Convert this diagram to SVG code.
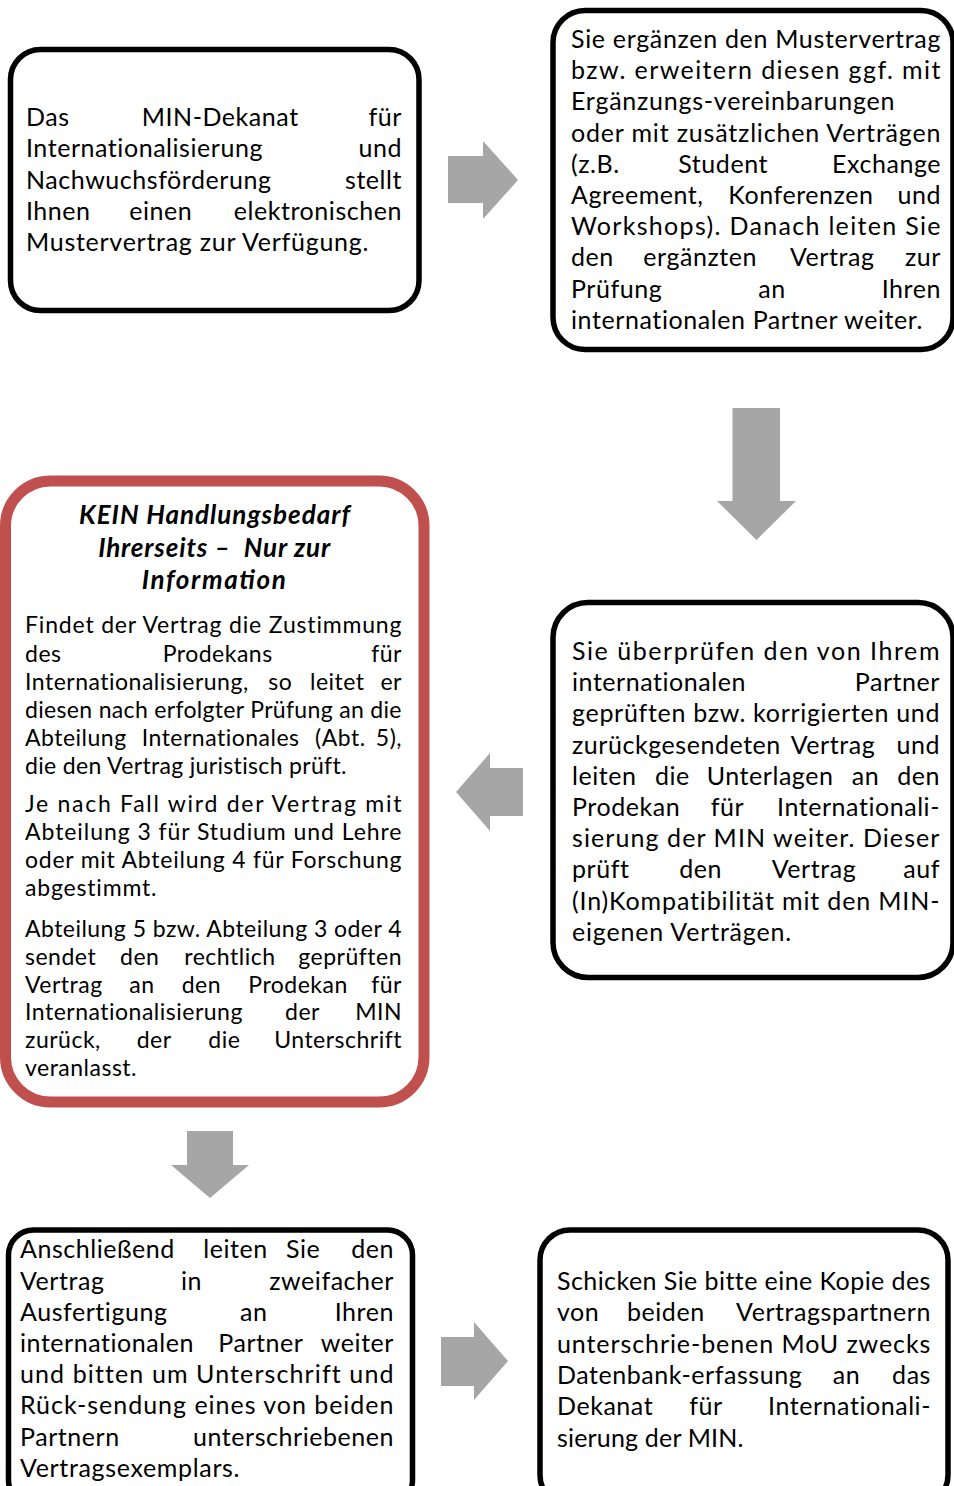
<svg xmlns="http://www.w3.org/2000/svg" width="954" height="1486" viewBox="0 0 954 1486">
<style>
.box{fill:#fff;stroke:#000;stroke-width:5.5}
.red{fill:#fff;stroke:#C0504D;stroke-width:11}
.arr{fill:#A6A6A6}
text{font-family:Lato,"Open Sans","Liberation Sans",sans-serif;font-size:25px;fill:#000;letter-spacing:0.55px}
.s{font-size:23px;letter-spacing:0.5px}
.e{text-anchor:end}
.h{font-weight:bold;font-style:italic;font-size:26px;text-anchor:middle;white-space:pre;letter-spacing:0}
</style>
<rect width="954" height="1486" fill="#fff"/>
<g id="connectors">
<polygon class="arr" points="448,156 483,156 483,141 518,180 483,219 483,203 448,203"/>
<polygon class="arr" points="732.5,408 780,408 780,501 796,501 756.5,540 717,501 732.5,501"/>
<polygon class="arr" points="523,768 490,768 490,753 456,792 490,831 490,816 523,816"/>
<polygon class="arr" points="187,1131 233,1131 233,1165 249,1165 210,1198 171,1165 187,1165"/>
<polygon class="arr" points="441,1337 474,1337 474,1322 508,1361 474,1400 474,1386 441,1386"/>
</g>
<g id="node1">
<rect class="box" x="10.5" y="49.5" width="408.5" height="261" rx="30"/>
<text x="26" y="126">Das<tspan x="141.7">MIN-Dekanat</tspan></text><text class="e" x="402" y="126">für</text>
<text x="26" y="157.3">Internationalisierung</text><text class="e" x="402" y="157.3">und</text>
<text x="26" y="188.6">Nachwuchsförderung</text><text class="e" x="402" y="188.6">stellt</text>
<text x="26" y="219.9">Ihnen<tspan x="129.3">einen</tspan></text><text class="e" x="402" y="219.9">elektronischen</text>
<text x="26" y="251.2" textLength="343" lengthAdjust="spacing">Mustervertrag zur Verfügung.</text>
</g>
<g id="node2">
<rect class="box" x="553" y="10.5" width="400" height="339" rx="32"/>
<text x="571" y="48" textLength="370" lengthAdjust="spacing">Sie ergänzen den Mustervertrag</text>
<text x="571" y="79.2" textLength="370" lengthAdjust="spacing">bzw. erweitern diesen ggf. mit</text>
<text x="571" y="110.4" textLength="324" lengthAdjust="spacing">Ergänzungs-vereinbarungen</text>
<text x="571" y="141.6" textLength="370" lengthAdjust="spacing">oder mit zusätzlichen Verträgen</text>
<text x="571" y="172.8">(z.B.<tspan x="678.3">Student</tspan></text><text class="e" x="941" y="172.8">Exchange</text>
<text x="571" y="204">Agreement,<tspan x="728.3">Konferenzen</tspan></text><text class="e" x="941" y="204">und</text>
<text x="571" y="235.2" textLength="370" lengthAdjust="spacing">Workshops). Danach leiten Sie</text>
<text x="571" y="266.4">den<tspan x="643.3">ergänzten</tspan><tspan x="790">Vertrag</tspan></text><text class="e" x="941" y="266.4">zur</text>
<text x="571" y="297.6">Prüfung<tspan x="758.3">an</tspan></text><text class="e" x="941" y="297.6">Ihren</text>
<text x="571" y="328.8" textLength="352" lengthAdjust="spacing">internationalen Partner weiter.</text>
</g>
<g id="node3">
<rect class="box" x="553" y="602.5" width="400" height="375" rx="35"/>
<text x="572" y="660" textLength="368" lengthAdjust="spacing">Sie überprüfen den von Ihrem</text>
<text x="572" y="691.2">internationalen</text><text class="e" x="940" y="691.2">Partner</text>
<text x="572" y="722.4" textLength="368" lengthAdjust="spacing">geprüften bzw. korrigierten und</text>
<text x="572" y="753.6">zurückgesendeten<tspan x="790.7">Vertrag</tspan></text><text class="e" x="940" y="753.6">und</text>
<text x="572" y="784.8">leiten<tspan x="655">die</tspan><tspan x="706.7">Unterlagen</tspan><tspan x="851.7">an</tspan></text><text class="e" x="940" y="784.8">den</text>
<text x="572" y="816">Prodekan<tspan x="710.7">für</tspan></text><text class="e" x="940" y="816">Internationali-</text>
<text x="572" y="847.2" textLength="368" lengthAdjust="spacing">sierung der MIN weiter. Dieser</text>
<text x="572" y="878.4">prüft<tspan x="679.3">den</tspan><tspan x="771.7">Vertrag</tspan></text><text class="e" x="940" y="878.4">auf</text>
<text x="572" y="909.6" textLength="368" lengthAdjust="spacing">(In)Kompatibilität mit den MIN-</text>
<text x="572" y="940.8" textLength="219.7" lengthAdjust="spacing">eigenen Verträgen.</text>
</g>
<g id="node4">
<rect class="red" x="5.5" y="481" width="418.5" height="621" rx="45"/>
<text class="h" x="214.5" y="524" textLength="271" lengthAdjust="spacing">KEIN Handlungsbedarf</text>
<text class="h" x="214.2" y="557" textLength="232" lengthAdjust="spacing">Ihrerseits –  Nur zur</text>
<text class="h" x="213.8" y="589" textLength="144.3" lengthAdjust="spacing">Information</text>
<text class="s" x="25" y="633.3" textLength="377" lengthAdjust="spacing">Findet der Vertrag die Zustimmung</text>
<text class="s" x="25" y="661.5">des<tspan x="162.7">Prodekans</tspan></text><text class="s e" x="402" y="661.5">für</text>
<text class="s" x="25" y="689.7">Internationalisierung,<tspan x="268.3">so</tspan><tspan x="310">leitet</tspan></text><text class="s e" x="402" y="689.7">er</text>
<text class="s" x="25" y="717.9" textLength="377" lengthAdjust="spacing">diesen nach erfolgter Prüfung an die</text>
<text class="s" x="25" y="746.1">Abteilung<tspan x="141.7">Internationales</tspan><tspan x="315">(Abt.</tspan></text><text class="s e" x="402" y="746.1">5),</text>
<text class="s" x="25" y="774.3" textLength="322" lengthAdjust="spacing">die den Vertrag juristisch prüft.</text>
<text class="s" x="25" y="811.7" textLength="377" lengthAdjust="spacing">Je nach Fall wird der Vertrag mit</text>
<text class="s" x="25" y="839.9" textLength="377" lengthAdjust="spacing">Abteilung 3 für Studium und Lehre</text>
<text class="s" x="25" y="868.1" textLength="377" lengthAdjust="spacing">oder mit Abteilung 4 für Forschung</text>
<text class="s" x="25" y="896.3" textLength="132" lengthAdjust="spacing">abgestimmt.</text>
<text class="s" x="25" y="936.7" textLength="377" lengthAdjust="spacing">Abteilung 5 bzw. Abteilung 3 oder 4</text>
<text class="s" x="25" y="964.6">sendet<tspan x="120">den</tspan><tspan x="184.3">rechtlich</tspan></text><text class="s e" x="402" y="964.6">geprüften</text>
<text class="s" x="25" y="992.5">Vertrag<tspan x="129.3">an</tspan><tspan x="181.7">den</tspan><tspan x="248.3">Prodekan</tspan></text><text class="s e" x="402" y="992.5">für</text>
<text class="s" x="25" y="1020.4">Internationalisierung<tspan x="285">der</tspan></text><text class="s e" x="402" y="1020.4">MIN</text>
<text class="s" x="25" y="1048.3">zurück,<tspan x="136.7">der</tspan><tspan x="208.3">die</tspan></text><text class="s e" x="402" y="1048.3">Unterschrift</text>
<text class="s" x="25" y="1076.2" textLength="112" lengthAdjust="spacing">veranlasst.</text>
</g>
<g id="node5">
<rect class="box" x="8.5" y="1230" width="404" height="275" rx="25"/>
<text x="20" y="1258.3">Anschließend<tspan x="203.3">leiten</tspan><tspan x="286">Sie</tspan></text><text class="e" x="394" y="1258.3">den</text>
<text x="20" y="1289.5">Vertrag<tspan x="181">in</tspan></text><text class="e" x="394" y="1289.5">zweifacher</text>
<text x="20" y="1320.7">Ausfertigung<tspan x="240">an</tspan></text><text class="e" x="394" y="1320.7">Ihren</text>
<text x="20" y="1351.9">internationalen<tspan x="218.3">Partner</tspan></text><text class="e" x="394" y="1351.9">weiter</text>
<text x="20" y="1383.1" textLength="374" lengthAdjust="spacing">und bitten um Unterschrift und</text>
<text x="20" y="1414.3" textLength="374" lengthAdjust="spacing">Rück-sendung eines von beiden</text>
<text x="20" y="1445.5">Partnern</text><text class="e" x="394" y="1445.5">unterschriebenen</text>
<text x="20" y="1476.7" textLength="220" lengthAdjust="spacing">Vertragsexemplars.</text>
</g>
<g id="node6">
<rect class="box" x="540" y="1230" width="408" height="275" rx="30"/>
<text x="557" y="1290" textLength="374" lengthAdjust="spacing">Schicken Sie bitte eine Kopie des</text>
<text x="557" y="1321.3">von<tspan x="627">beiden</tspan></text><text class="e" x="931" y="1321.3">Vertragspartnern</text>
<text x="557" y="1352.6" textLength="374" lengthAdjust="spacing">unterschrie-benen MoU zwecks</text>
<text x="557" y="1383.9">Datenbank-erfassung<tspan x="832.7">an</tspan></text><text class="e" x="931" y="1383.9">das</text>
<text x="557" y="1415.2">Dekanat<tspan x="689.3">für</tspan></text><text class="e" x="931" y="1415.2">Internationali-</text>
<text x="557" y="1446.5" textLength="187" lengthAdjust="spacing">sierung der MIN.</text>
</g>
</svg>
